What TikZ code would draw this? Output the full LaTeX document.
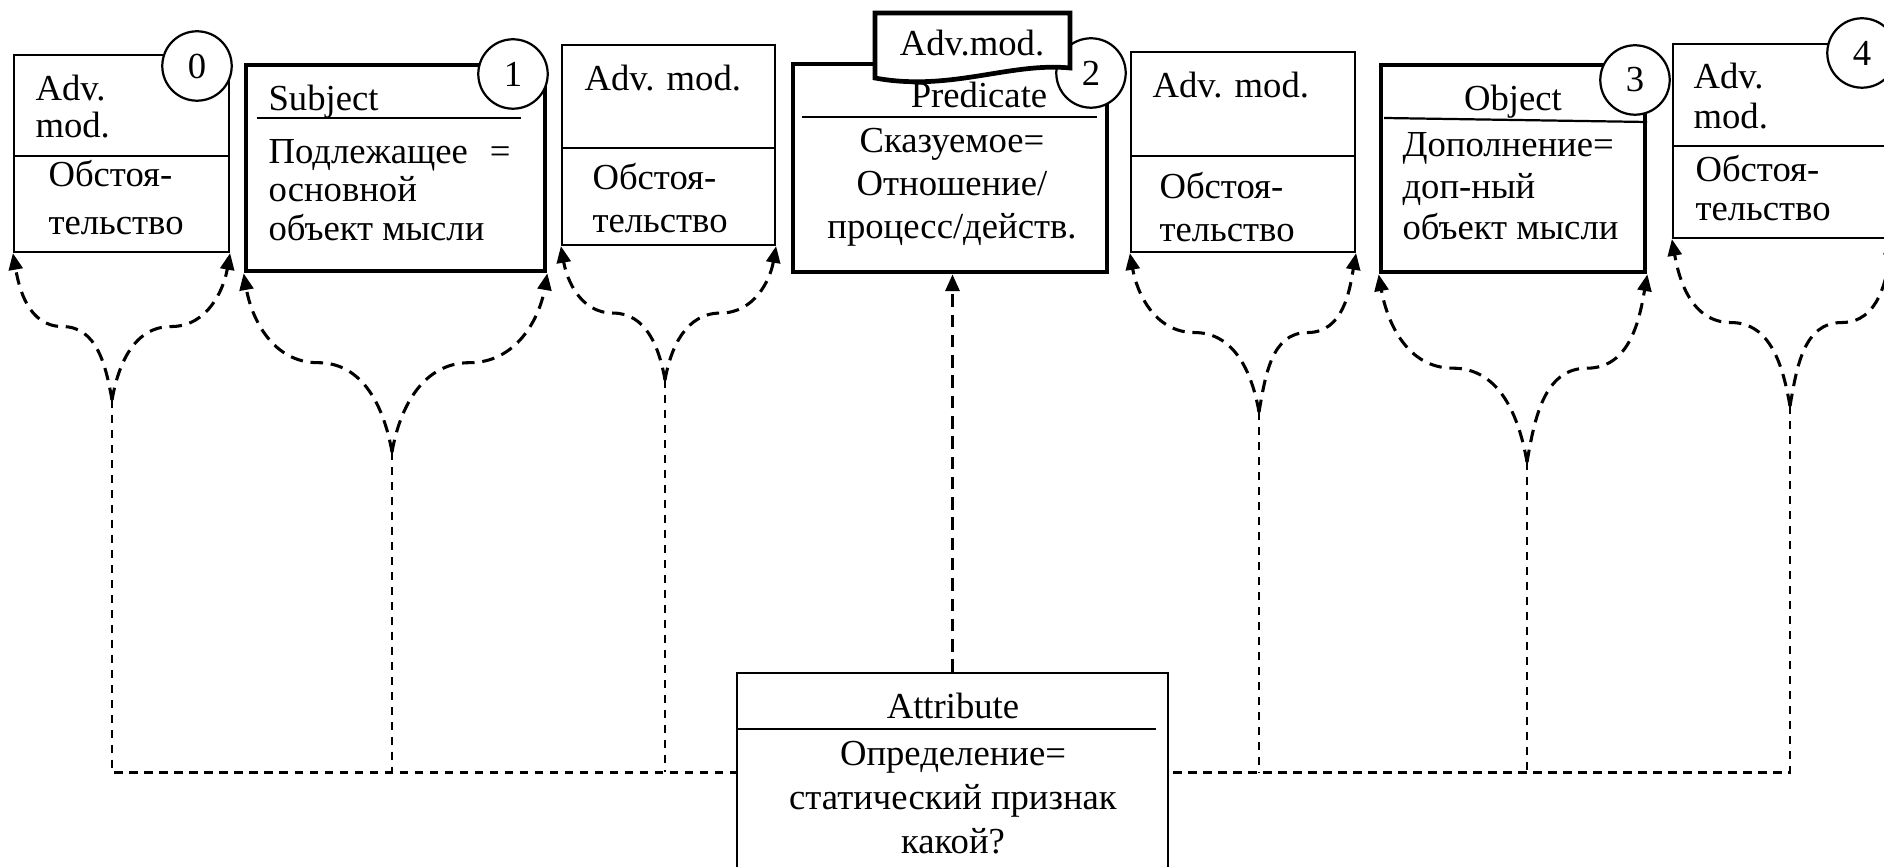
\documentclass[tikz,border=0pt]{standalone}
\usepackage{fontspec}
\setmainfont{Liberation Serif}
\usetikzlibrary{arrows.meta, calc, fit}

\begin{document}
\begin{tikzpicture}[
  x=0.36pt, y=-0.36pt,
  font=\fontsize{13.2}{15.5}\selectfont,
  lh/.style={font=\fontsize{13.2}{#1}\selectfont},
  box/.style={draw, line width=0.8pt, inner sep=0pt},
  mainbox/.style={box, line width=1.7pt},
  num/.style={circle, draw, line width=0.8pt, fill=white, minimum size=25pt, inner sep=0pt},
  txt/.style={inner sep=0pt, align=left, anchor=north west},
  ctxt/.style={inner sep=0pt, align=center, anchor=north},
  link/.style={dash pattern=on 4.5pt off 2.8pt, line width=1.1pt, -{Triangle[length=6pt,width=5pt]}},
  bus/.style={dash pattern=on 3pt off 2.4pt, line width=0.9pt}
]
  \useasboundingbox (0,0) rectangle (1884,867);

  \node[box, fit={(14,55) (229,252)}] (b0) {};
  \node[mainbox, fit={(246,65) (545,271)}] (b1) {};
  \node[box, fit={(562,45) (775,245)}] (b2) {};
  \node[mainbox, fit={(793,64) (1107,272)}] (bp) {};
  \node[box, fit={(1131,52) (1355,252)}] (b4) {};
  \node[mainbox, fit={(1381,65) (1645,272)}] (bo) {};
  \node[box, fit={(1673,44) (1892,238)}] (b6) {};
  \node[box, fit={(737,673) (1168,872)}] (attr) {};

  \draw[line width=0.8pt] (b0.west |- 0,156) -- (b0.east |- 0,156);
  \draw[line width=0.8pt] (257,118) -- (521,118);
  \draw[line width=0.8pt] (b2.west |- 0,148) -- (b2.east |- 0,148);
  \draw[line width=0.8pt] (802,117) -- (1097,117);
  \draw[line width=0.8pt] (b4.west |- 0,156) -- (b4.east |- 0,156);
  \draw[line width=0.8pt] (1384,118) -- (1647,122);
  \draw[line width=0.8pt] (b6.west |- 0,146) -- (b6.east |- 0,146);
  \draw[line width=0.8pt] (attr.west |- 0,729) -- (1156,729);

  \coordinate (m0) at (112,400);
  \coordinate (m1) at (392,452);
  \coordinate (m2) at (665,380);
  \coordinate (m4) at (1259,412);
  \coordinate (mo) at (1527,462);
  \coordinate (m6) at (1790,406);

  \draw[link] (m0) to[out=100,in=0] ($(m0)!.5!(b0.south west)$) to[out=180,in=-80] (b0.south west);
  \draw[link] (m0) to[out=80,in=180] ($(m0)!.5!(b0.south east)$) to[out=0,in=-100] (b0.south east);
  \draw[link] (m1) to[out=100,in=0] ($(m1)!.5!(b1.south west)$) to[out=180,in=-80] (b1.south west);
  \draw[link] (m1) to[out=80,in=180] ($(m1)!.5!(b1.south east)$) to[out=0,in=-100] (b1.south east);
  \draw[link] (m2) to[out=100,in=0] ($(m2)!.5!(b2.south west)$) to[out=180,in=-80] (b2.south west);
  \draw[link] (m2) to[out=80,in=180] ($(m2)!.5!(b2.south east)$) to[out=0,in=-100] (b2.south east);
  \draw[link] (m4) to[out=100,in=0] ($(m4)!.5!(b4.south west)$) to[out=180,in=-80] (b4.south west);
  \draw[link] (m4) to[out=80,in=180] ($(m4)!.5!(b4.south east)$) to[out=0,in=-100] (b4.south east);
  \draw[link] (mo) to[out=100,in=0] ($(mo)!.5!(bo.south west)$) to[out=180,in=-80] (bo.south west);
  \draw[link] (mo) to[out=80,in=180] ($(mo)!.5!(bo.south east)$) to[out=0,in=-100] (bo.south east);
  \draw[link] (m6) to[out=100,in=0] ($(m6)!.5!(b6.south west)$) to[out=180,in=-80] (b6.south west);
  \draw[link] (m6) to[out=80,in=180] ($(m6)!.5!(b6.south east)$) to[out=0,in=-100] (b6.south east);

  \draw[bus] (m0) |- (attr.west);
  \draw[bus] (m1) -- (m1 |- attr.west);
  \draw[bus] (m2) -- (m2 |- attr.west);
  \draw[bus] (m6) |- (attr.east);
  \draw[bus] (m4) -- (m4 |- attr.east);
  \draw[bus] (mo) -- (mo |- attr.east);
  \draw[link] (attr.north) -- (attr.north |- bp.south);

  \node[num] (c0) at (197,66) {0};
  \node[num] (c1) at (513,74) {1};
  \node[num] (c2) at (1091,73) {2};
  \node[num] (c3) at (1635,80) {3};
  \node[num] (c4) at (1862,53) {4};

  \draw[line width=1.7pt, fill=white] (875,13) -- (1070,13) -- (1070,68)
    .. controls (1010,62) and (950,92) .. (875,78) -- cycle;
  \node[ctxt] (tag) at (972,30) {Adv.mod.};

  \node[txt, lh=13pt] (t0a) at (35,75) {Adv.\\mod.};
  \node[txt, lh=17.3pt] (t0b) at (48,160) {Обстоя-\\тельство};
  \node[txt] (t1a) at (268,85) {Subject};
  \node[txt, lh=13.8pt] (t1b) at (268,139) {Подлежащее\hspace{0.6em}=\\основной\\объект мысли};
  \node[txt] (t2a) at (584,65) {Adv. mod.};
  \node[txt] (t2b) at (592,163) {Обстоя-\\тельство};
  \node[ctxt] (tpa) at (979,82) {Predicate};
  \node[ctxt] (tpb) at (952,128) {Сказуемое=\\Отношение/\\процесс/действ.};
  \node[txt] (t4a) at (1152,72) {Adv. mod.};
  \node[txt] (t4b) at (1159,172) {Обстоя-\\тельство};
  \node[ctxt] (toa) at (1513,85) {Object};
  \node[txt, lh=15pt] (tob) at (1402,132) {Дополнение=\\доп-ный\\объект мысли};
  \node[txt, lh=14.4pt] (t6a) at (1693,63) {Adv.\\mod.};
  \node[txt, lh=13.8pt] (t6b) at (1695,155) {Обстоя-\\тельство};
  \node[ctxt] (ta) at (953,693) {Attribute};
  \node[ctxt, lh=15.7pt] (tb) at (953,741) {Определение=\\статический признак\\какой?};
\end{tikzpicture}
\end{document}
